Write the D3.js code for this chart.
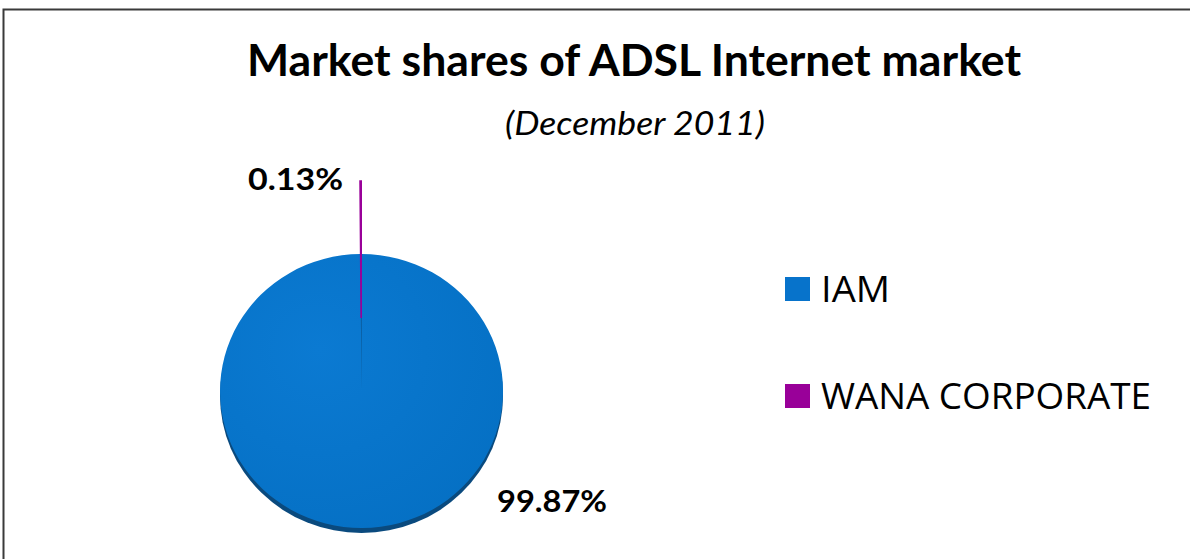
<!DOCTYPE html>
<html><head><meta charset="utf-8">
<script src="https://cdn.jsdelivr.net/npm/d3@7"></script>
<style>html,body{margin:0;padding:0;background:#fff;}svg{display:block;}</style>
</head><body>
<script>
const categories = ["IAM", "WANA CORPORATE"];
const values = [99.87, 0.13];
const labels = ["99.87%", "0.13%"];
const colors = ["#0773CB", "#990099"];
const titleText = "Market shares of ADSL Internet market";
const subtitleText = "(December 2011)";

(function () {
const W = 1190, H = 559;
const svg = d3.select("body").append("svg").attr("width", W).attr("height", H);

svg.append("rect").attr("x", 3.5).attr("y", 9.5).attr("width", W + 10).attr("height", H + 10)
  .attr("fill", "#fff").attr("stroke", "#3a3a3a").attr("stroke-width", 2);

svg.append("text").attr("x", 634).attr("y", 76).attr("text-anchor", "middle")
  .attr("font-family", "Lato, 'Open Sans', sans-serif").attr("font-weight", "bold")
  .attr("font-size", 43).attr("textLength", 774).attr("lengthAdjust", "spacingAndGlyphs")
  .attr("fill", "#000").text(titleText);
svg.append("text").attr("x", 635).attr("y", 135).attr("text-anchor", "middle")
  .attr("font-family", "Lato, 'Open Sans', sans-serif").attr("font-style", "italic")
  .attr("font-size", 32).attr("textLength", 260).attr("lengthAdjust", "spacingAndGlyphs")
  .attr("fill", "#000").text(subtitleText);

const defs = svg.append("defs");
const grad = defs.append("radialGradient").attr("id", "g").attr("cx", "35%").attr("cy", "35%").attr("r", "75%");
grad.append("stop").attr("offset", "0%").attr("stop-color", "#0b7ad2");
grad.append("stop").attr("offset", "100%").attr("stop-color", "#0570c4");

const cx = 361.5, cy = 391, R = 141.5, sy = 137 / 141.5, depth = 5;
const data = categories.map((c, i) => ({ name: c, value: values[i], label: labels[i], color: colors[i] }));
const pie = d3.pie().value(d => d.value).sort(null);
const arcs = pie(data);
const arc = d3.arc().innerRadius(0).outerRadius(R);
const explode = [0, 73];

const side = svg.append("g").attr("transform", `translate(${cx},${cy + depth}) scale(1,${sy})`);
side.append("ellipse").attr("rx", R).attr("ry", R).attr("fill", "#0a4a7e");

const face = svg.append("g").attr("transform", `translate(${cx},${cy}) scale(1,${sy})`);
face.selectAll("path").data(arcs).join("path")
  .attr("transform", (d, i) => {
    const a = (d.startAngle + d.endAngle) / 2;
    return `translate(${Math.sin(a) * explode[i]},${-Math.cos(a) * explode[i] / sy})`;
  })
  .attr("d", arc)
  .attr("fill", (d, i) => i === 0 ? "url(#g)" : d.data.color)
  .attr("stroke", (d, i) => i === 1 ? d.data.color : "none")
  .attr("stroke-width", 1.6);

svg.append("text").attr("x", 248).attr("y", 190).attr("font-family", "Lato, 'Open Sans', sans-serif")
  .attr("font-weight", "bold").attr("font-size", 30).attr("textLength", 95).attr("lengthAdjust", "spacingAndGlyphs")
  .text(data[1].label);
svg.append("text").attr("x", 497).attr("y", 512).attr("font-family", "Lato, 'Open Sans', sans-serif")
  .attr("font-weight", "bold").attr("font-size", 30).attr("textLength", 110).attr("lengthAdjust", "spacingAndGlyphs")
  .text(data[0].label);

const legY = d3.scalePoint().domain(categories).range([289, 396]);
const leg = svg.append("g").selectAll("g").data(data).join("g")
  .attr("transform", d => `translate(785,${legY(d.name)})`);
leg.append("rect").attr("x", 0).attr("y", -12).attr("width", 25).attr("height", 24).attr("fill", d => d.color);
leg.append("text").attr("x", 36).attr("y", 12.5).attr("font-family", "'Open Sans', Lato, sans-serif")
  .attr("font-size", 36).attr("fill", "#000")
  .each(function (d) { d3.select(this).attr("textLength", d.name === "IAM" ? 69 : 330).attr("lengthAdjust", "spacingAndGlyphs"); })
  .text(d => d.name);
})();
</script>
</body></html>
